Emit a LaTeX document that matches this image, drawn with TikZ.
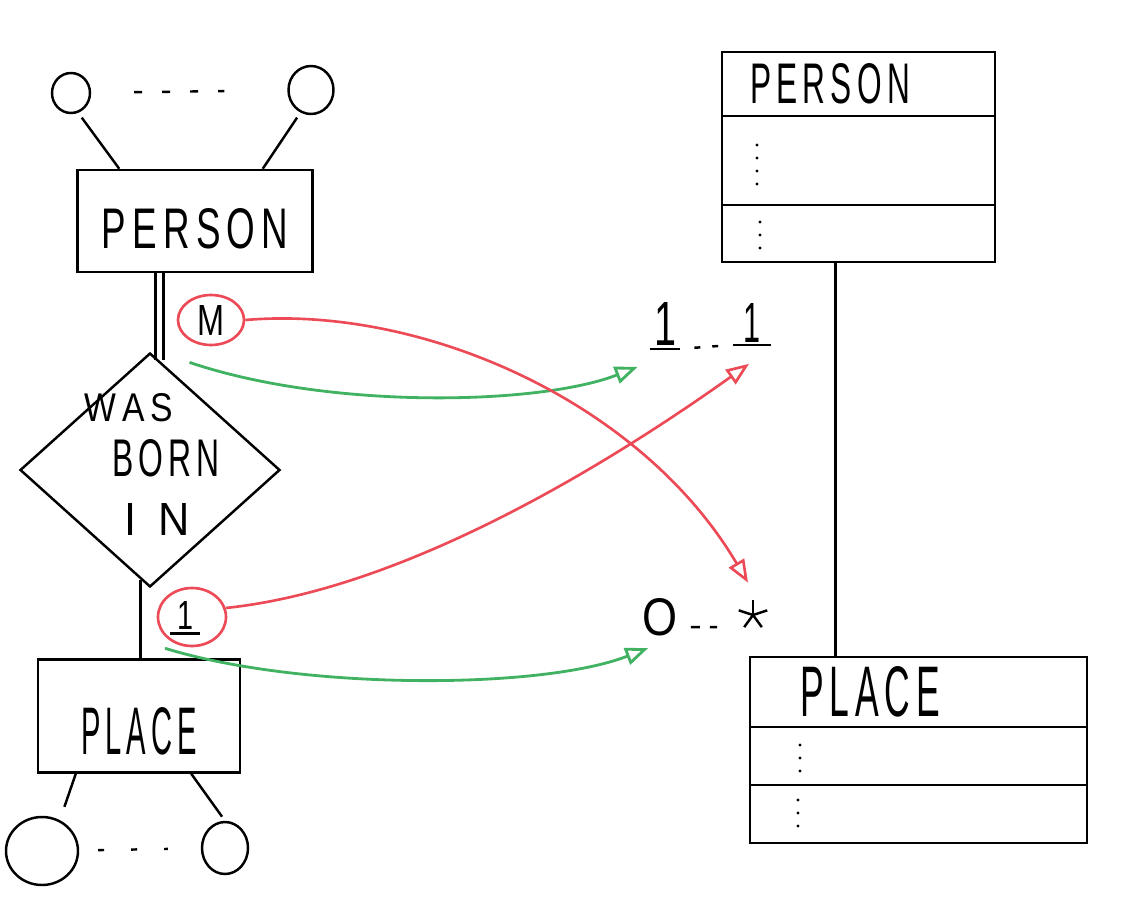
\documentclass[tikz,border=0pt]{standalone}
\usepackage{fontspec}
\usepackage{xcolor}
\usetikzlibrary{positioning,shapes.geometric,arrows.meta}
\newfontfamily\hand{Liberation Sans}
\newlength{\pxu}\setlength{\pxu}{0.02cm}
\newcommand{\hw}[3]{\resizebox{#1\pxu}{#2\pxu}{\hand #3}}
\definecolor{penred}{RGB}{236,74,86}
\definecolor{pengreen}{RGB}{64,178,98}

\begin{document}
\begin{tikzpicture}[x=0.02cm, y=-0.02cm,
    ink/.style={line width=1.4pt},
    entity/.style={draw, ink, inner sep=0pt},
    attr/.style={draw, ink, ellipse, inner sep=0pt},
    rel/.style={draw, ink, diamond, inner sep=0pt},
    card/.style={draw=penred, line width=1.5pt, ellipse, inner sep=0pt},
    word/.style={inner sep=0pt},
    compart/.style={draw, ink, inner sep=0pt, outer sep=0pt, align=left},
    tick/.style={line width=1.8pt, line cap=round, dash pattern=on 0pt off 13\pxu},
    dashline/.style={ink, dash pattern=on 8\pxu off 20\pxu},
    redarrow/.style={draw=penred, line width=1.5pt, -{Triangle[open, length=13pt, width=10pt]}},
    greenarrow/.style={draw=pengreen, line width=1.6pt, -{Triangle[open, length=13pt, width=10pt]}}]
    \useasboundingbox (0,0) rectangle (1131,909);
    % ER diagram
    \node[entity, minimum width=235\pxu, minimum height=102\pxu, text height=54\pxu, text depth=0pt] (person) at (195,221) {\hw{186}{40}{P\,E\,R\,S\,O\,N}};
    \node[attr, minimum width=38\pxu, minimum height=40\pxu] (attrA) at (71,93) {};
    \node[attr, minimum width=45\pxu, minimum height=48\pxu] (attrB) at (311,90) {};
    \draw[ink, shorten <=6\pxu] (attrA.-70) -- ([xshift=43\pxu]person.north west);
    \draw[ink, shorten <=6\pxu] (attrB.-115) -- ([xshift=-51\pxu]person.north east);
    \draw[dashline, shorten <=43\pxu, shorten >=63\pxu] (attrA) -- (attrB);
    \node[rel, minimum width=260\pxu, minimum height=234\pxu] (born) at (150,470) {};
    \node[word] (relA) at (129,408) {\hw{88}{28}{W\,A\,S}};
    \node[word] (relB) at (166,458) {\hw{108}{37}{B\,O\,R\,N}};
    \node[word] (relC) at (157,519) {\hw{65}{32}{I\enspace N}};
    \coordinate (dblTop) at (born.85 |- person.south);
    \draw[ink] ([xshift=-4\pxu]born.85) -- ([xshift=-4\pxu]dblTop);
    \draw[ink] ([xshift=4\pxu]born.85) -- ([xshift=4\pxu]dblTop);
    \node[entity, minimum width=202\pxu, minimum height=113\pxu, text height=77\pxu, text depth=0pt] (place) at (139,716) {\hw{115}{47}{P\,L\,A\,C\,E}};
    \draw[ink] (born.265) -- (born.265 |- place.north);
    \node[attr, minimum width=72\pxu, minimum height=68\pxu] (attrC) at (42,851) {};
    \node[attr, minimum width=46\pxu, minimum height=52\pxu] (attrD) at (225,848) {};
    \draw[ink, shorten >=14\pxu] ([xshift=39\pxu]place.south west) -- (attrC.60);
    \draw[ink, shorten >=5\pxu] ([xshift=-50\pxu]place.south east) -- (attrD.north);
    \draw[dashline, dash pattern=on 6\pxu off 27\pxu, shorten <=19\pxu, shorten >=33\pxu] (attrC) -- (attrD);
    % cardinalities
    \node[card, minimum width=66\pxu, minimum height=50\pxu] (cardM) at (211,320) {\hw{27}{30}{M}};
    \node[card, minimum width=68\pxu, minimum height=58\pxu] (cardOne) at (192,617) {};
    \node[word, inner xsep=7\pxu, inner ysep=4\pxu] (cardOneTxt) at (185,615) {\hw{16}{28}{1}};
    \draw[ink] (cardOneTxt.south west) -- (cardOneTxt.south east);
    \node[word, inner xsep=4\pxu, inner ysep=3\pxu] (minA) at (665,324) {\hw{22}{43}{1}};
    \node[word, inner xsep=10\pxu, inner ysep=2\pxu] (maxA) at (752,323) {\hw{17}{39}{1}};
    \draw[ink] (minA.south west) -- (minA.south east);
    \draw[ink] (maxA.south west) -- (maxA.south east);
    \draw[ink, dash pattern=on 6\pxu off 12\pxu, shorten <=14\pxu, shorten >=15\pxu] (minA.south east) -- (maxA.south west);
    \node[word] (minB) at (660,617) {\hw{35}{37}{O}};
    \node[word, minimum width=27\pxu, minimum height=34\pxu] (maxB) at (753,615) {};
    \foreach \a in {90,18,-54,-126,162}
        \draw[ink] (maxB.center) -- ++(\a:15\pxu);
    \draw[ink, dash pattern=on 9\pxu off 10\pxu, shorten <=13\pxu, shorten >=22\pxu] ([yshift=9\pxu]minB.south east) -- ([yshift=-12\pxu]maxB.west);
    % mapping arrows
    \draw[greenarrow] ([shift={(30,2)}]born.85) .. controls (330,410) and (540,405) .. ([shift={(-12,18)}]minA.south west);
    \draw[greenarrow] ([shift={(26,-10)}]place.north) .. controls (300,690) and (540,690) .. ([shift={(6,12)}]minB.south west);
    \draw[redarrow] (cardM.east) .. controls (420,305) and (640,400) .. ([shift={(-5,-15)}]maxB.north);
    \draw[redarrow] (cardOne.15) .. controls (400,590) and (600,470) .. ([shift={(-3,19)}]maxA.south);
    % UML classes
    \node[compart, minimum width=273\pxu, minimum height=64\pxu, text width=217\pxu, inner xsep=28\pxu] (cpersonName) at (858.5,84) {\hw{160}{40}{P\,E\,R\,S\,O\,N}};
    \node[compart, minimum width=273\pxu, minimum height=89\pxu, below=0pt of cpersonName] (cpersonAttr) {};
    \node[compart, minimum width=273\pxu, minimum height=57\pxu, below=0pt of cpersonAttr] (cpersonOps) {};
    \draw[tick] ([shift={(35,29)}]cpersonAttr.north west) -- ++(0,40);
    \draw[tick] ([shift={(38,17)}]cpersonOps.north west) -- ++(0,27);
    \node[compart, minimum width=337\pxu, minimum height=70\pxu, text width=237\pxu, inner xsep=50\pxu] (cplaceName) at (918.5,692) {\hw{140}{50}{P\,L\,A\,C\,E}};
    \node[compart, minimum width=337\pxu, minimum height=58\pxu, below=0pt of cplaceName] (cplaceAttr) {};
    \node[compart, minimum width=337\pxu, minimum height=58\pxu, below=0pt of cplaceAttr] (cplaceOps) {};
    \draw[tick] ([shift={(50,18)}]cplaceAttr.north west) -- ++(0,27);
    \draw[tick] ([shift={(48,15)}]cplaceOps.north west) -- ++(0,27);
    \coordinate (assocTop) at ([xshift=-23\pxu]cpersonOps.south);
    \draw[ink] (assocTop) -- (assocTop |- cplaceName.north);
\end{tikzpicture}
\end{document}
